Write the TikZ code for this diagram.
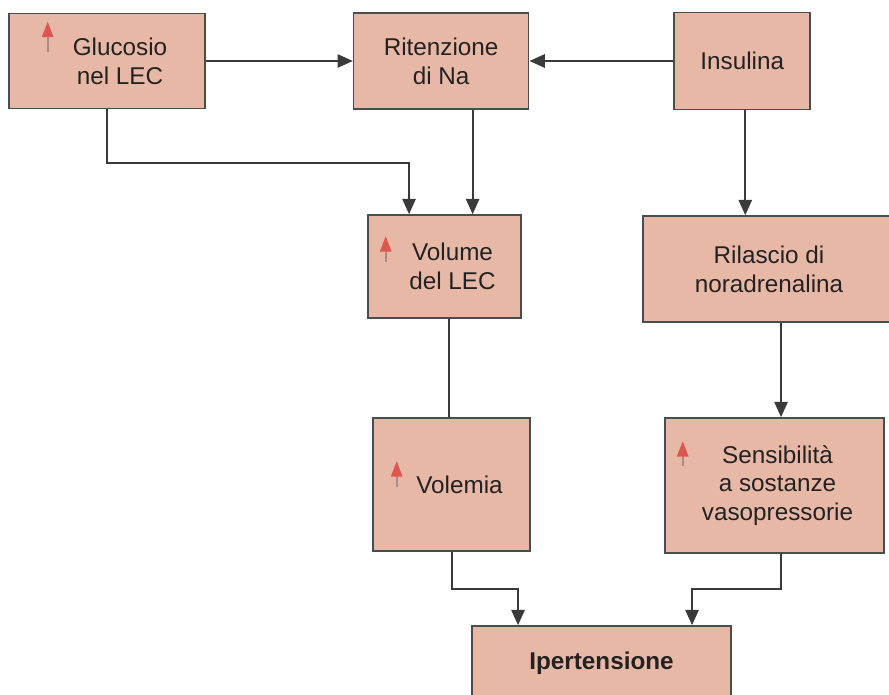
\documentclass[tikz,border=0pt]{standalone}
\usepackage{fontspec}
\setmainfont{Liberation Sans}
\usepackage{xcolor}
\usepackage{tikz}
\usetikzlibrary{arrows.meta, positioning}

\definecolor{boxfill}{RGB}{232,184,167}
\definecolor{boxline}{RGB}{72,78,78}
\definecolor{arrline}{RGB}{58,58,58}
\definecolor{textcol}{RGB}{34,34,34}
\definecolor{upred}{RGB}{222,86,80}
\definecolor{upshaft}{RGB}{168,140,140}

\begin{document}
\begin{tikzpicture}[
  x=0.75pt, y=-0.75pt,
  node distance=110pt,
  box/.style={draw=boxline, line width=1.2pt, fill=boxfill, align=center, inner sep=0pt, text=textcol, font=\fontsize{18.2pt}{21.6pt}\selectfont},
  lbl/.style={align=center, inner sep=0pt, text=textcol, font=\fontsize{18.2pt}{21.6pt}\selectfont},
  arr/.style={-{Triangle[length=11.5pt, width=10pt]}, draw=arrline, line width=1.3pt},
  link/.style={draw=arrline, line width=1.3pt},
  upmark/.style={-{Triangle[length=11.5pt, width=8.5pt, color=upred]}, draw=upshaft, line width=1.2pt}
]
\useasboundingbox (0,0) rectangle (889,695);

% top row
\node[box, minimum width=147pt, minimum height=71.25pt] (gluc) at (107,61) {};
\node[box, right=110.3pt of gluc, minimum width=131.25pt, minimum height=72pt] (riten) {Ritenzione\\di Na};
\node[box, right=108pt of riten, minimum width=102pt, minimum height=72.75pt] (insul) {Insulina};

% middle rows
\node[box, minimum width=114.75pt, minimum height=77.25pt] (volume) at (444.5,266.5) {};
\node[box, minimum width=189pt, minimum height=79.5pt] (rilas) at (769,269) {Rilascio di\\noradrenalina};
\node[box, minimum width=117.75pt, minimum height=99.75pt] (volemia) at (451.5,484.5) {};
\node[box, minimum width=164.25pt, minimum height=101.25pt] (sensib) at (774.5,485.5) {};
\node[box, minimum width=194.25pt, minimum height=55.5pt, font=\fontsize{18.2pt}{21.6pt}\selectfont\bfseries] (ipert) at (601.5,663) {Ipertensione};

% texts beside the up marks
\node[lbl] (glucT) at ([xshift=9.75pt]gluc.center) {Glucosio\\nel LEC};
\node[lbl] (volumeT) at ([xshift=6pt]volume.center) {Volume\\del LEC};
\node[lbl] (volemiaT) at ([xshift=6pt]volemia.center) {Volemia};
\node[lbl] (sensibT) at ([xshift=2.25pt]sensib.center) {Sensibilità\\a sostanze\\vasopressorie};

% up marks
\draw[upmark] ([shift={(39.5,39)}]gluc.north west) -- ++(0,-30);
\draw[upmark] ([shift={(18.5,48)}]volume.north west) -- ++(0,-26);
\draw[upmark] ([shift={(24.5,70)}]volemia.north west) -- ++(0,-26);
\draw[upmark] ([shift={(18.5,49)}]sensib.north west) -- ++(0,-25);

% connectors
\draw[arr] (gluc) -- (riten);
\draw[arr] (insul) -- (riten);
\draw[arr] (gluc.south) -- ++(0,53.5) -| ([xshift=-26.6pt]volume.north);
\draw[arr] ([xshift=23.6pt]riten.south) -- ([xshift=23.6pt]riten.south |- volume.north);
\draw[arr] ([xshift=2.25pt]insul.south) -- ([xshift=2.25pt]insul.south |- rilas.north);
\draw[link] ([xshift=3.4pt]volume.south) -- ([xshift=3.4pt]volume.south |- volemia.north);
\draw[arr] ([xshift=4.9pt]sensib.north |- rilas.south) -- ([xshift=4.9pt]sensib.north);
\draw[arr] ([xshift=0.4pt]volemia.south) -- ++(0,37) -| ([xshift=-62.6pt]ipert.north);
\draw[arr] ([xshift=4.9pt]sensib.south) -- ++(0,35) -| ([xshift=67.9pt]ipert.north);
\end{tikzpicture}
\end{document}
